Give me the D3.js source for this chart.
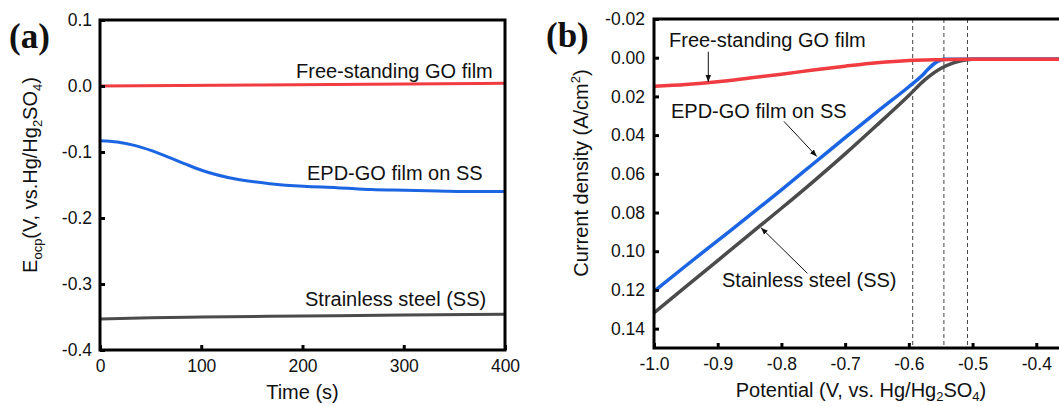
<!DOCTYPE html>
<html>
<head>
<meta charset="utf-8">
<script src="https://cdn.jsdelivr.net/npm/d3@7"></script>
<style>
  body { margin: 0; background: #fff; }
  text { font-family: "Liberation Sans", Arial, sans-serif; fill: #111; }
</style>
</head>
<body>
<div id="chart"></div>
<script>
// ---- panel (a): open circuit potential vs time ----
const aTime = [0, 17, 34, 51, 68, 84, 101, 134, 168, 201, 234, 268, 301, 334, 368, 400]
const aEpd = [-0.083, -0.085, -0.090, -0.098, -0.108, -0.118, -0.128, -0.141, -0.148, -0.152, -0.154, -0.157, -0.158, -0.159, -0.160, -0.160]
const aFreeTime = [0, 158, 400]
const aFree = [0.000, 0.0015, 0.004]
const aSteelTime = [0, 50, 100, 200, 300, 400]
const aSteel = [-0.353, -0.351, -0.350, -0.3485, -0.347, -0.346]
const aTimeTicks = [0, 100, 200, 300, 400]
const aPotTicks = [0.1, 0.0, -0.1, -0.2, -0.3, -0.4]

// ---- panel (b): polarization curves ----
const bFreeV = [-1.0, -0.95, -0.9, -0.85, -0.8, -0.75, -0.7, -0.65, -0.6, -0.55, -0.5, -0.3]
const bFree = [0.0147, 0.0138, 0.0124, 0.0105, 0.0085, 0.0064, 0.0044, 0.0026, 0.0014, 0.0010, 0.0008, 0.0008]
const bEpdV = [-1.0, -0.95, -0.9, -0.85, -0.8, -0.75, -0.7, -0.65, -0.6, -0.58, -0.57, -0.56, -0.55, -0.545, -0.3]
const bEpd = [0.1207, 0.1075, 0.0945, 0.0815, 0.0683, 0.0548, 0.0413, 0.0280, 0.0150, 0.0095, 0.0060, 0.0030, 0.0012, 0.0008, 0.0008]
const bSteelV = [-1.0, -0.95, -0.9, -0.85, -0.8, -0.75, -0.7, -0.65, -0.6, -0.575, -0.55, -0.53, -0.51, -0.5, -0.3]
const bSteel = [0.1318, 0.1183, 0.1048, 0.0913, 0.0778, 0.0640, 0.0497, 0.0348, 0.0195, 0.0115, 0.0056, 0.0027, 0.0011, 0.0008, 0.0008]
const bOnset = [-0.594, -0.545, -0.508]
const bPotTicks = [-1.0, -0.9, -0.8, -0.7, -0.6, -0.5, -0.4]
const bCurTicks = [-0.02, 0.00, 0.02, 0.04, 0.06, 0.08, 0.10, 0.12, 0.14]

const red = "#f03c41", blue = "#1b65e3", grey = "#4b4b4b"
const fmt = p => d => d3.format(p)(d).replace("\u2212", "-")

const svg = d3.select("#chart").append("svg")
  .attr("width", 1059)
  .attr("height", 406)

const defs = svg.append("defs")
defs.append("marker")
    .attr("id", "head")
    .attr("viewBox", "0 0 10 10")
    .attr("refX", 10).attr("refY", 5)
    .attr("markerWidth", 7).attr("markerHeight", 7)
    .attr("markerUnits", "userSpaceOnUse")
    .attr("orient", "auto")
  .append("path")
    .attr("d", "M0,1 L10,5 L0,9 Z")
    .attr("fill", "#111")

function styleAxis(g) {
  g.select(".domain").remove()
  g.selectAll(".tick line").attr("stroke", "#000").attr("stroke-width", 3)
  g.selectAll(".tick text").attr("font-size", 17.5).attr("fill", "#111")
    .style("font-family", "'Liberation Sans', Arial, sans-serif")
}

function addLine(g, xs, ys, xScale, yScale, color, w) {
  const pts = xs.map((x, i) => [x, ys[i]])
  g.append("path")
    .datum(pts)
    .attr("fill", "none")
    .attr("stroke", color)
    .attr("stroke-width", w)
    .attr("d", d3.line()
      .x(d => xScale(d[0]))
      .y(d => yScale(d[1]))
      .curve(d3.curveMonotoneX))
}

// ================= panel (a) =================
const ax = d3.scaleLinear().domain([0, 400]).range([100, 505])
const ay = d3.scaleLinear().domain([-0.4, 0.1]).range([350, 20])
const pa = svg.append("g")

addLine(pa, aSteelTime, aSteel, ax, ay, grey, 3)
addLine(pa, aTime, aEpd, ax, ay, blue, 3)
addLine(pa, aFreeTime, aFree, ax, ay, red, 3)

pa.append("g")
  .attr("transform", `translate(0,${ay(-0.4)})`)
  .call(d3.axisBottom(ax).tickValues(aTimeTicks).tickFormat(d3.format("d"))
    .tickSizeInner(-5).tickSizeOuter(0).tickPadding(10))
  .call(styleAxis)
pa.append("g")
  .attr("transform", `translate(${ax(0)},0)`)
  .call(d3.axisLeft(ay).tickValues(aPotTicks).tickFormat(fmt(".1f"))
    .tickSizeInner(-5).tickSizeOuter(0).tickPadding(8))
  .call(styleAxis)

pa.append("rect")
  .attr("x", ax(0)).attr("y", ay(0.1))
  .attr("width", ax(400) - ax(0)).attr("height", ay(-0.4) - ay(0.1))
  .attr("fill", "none").attr("stroke", "#000").attr("stroke-width", 3)

pa.append("text").attr("x", 296).attr("y", 78).attr("font-size", 20).text("Free-standing GO film")
pa.append("text").attr("x", 307).attr("y", 180).attr("font-size", 20).text("EPD-GO film on SS")
pa.append("text").attr("x", 305).attr("y", 306).attr("font-size", 20).text("Strainless steel (SS)")

pa.append("text").attr("x", 302.5).attr("y", 399).attr("font-size", 20)
  .attr("text-anchor", "middle").text("Time (s)")

const ta = pa.append("text")
  .attr("transform", "translate(37,175) rotate(-90)")
  .attr("text-anchor", "middle").attr("font-size", 20)
ta.append("tspan").text("E")
ta.append("tspan").attr("font-size", 13).attr("dy", 5).text("ocp")
ta.append("tspan").attr("dy", -5).text("(V, vs.Hg/Hg")
ta.append("tspan").attr("font-size", 13).attr("dy", 5).text("2")
ta.append("tspan").attr("dy", -5).text("SO")
ta.append("tspan").attr("font-size", 13).attr("dy", 5).text("4")
ta.append("tspan").attr("dy", -5).text(")")

pa.append("text").attr("x", 9).attr("y", 48)
  .attr("font-size", 35).attr("font-weight", "bold")
  .style("font-family", "'Liberation Serif', 'Times New Roman', serif")
  .text("(a)")

// ================= panel (b) =================
const bx = d3.scaleLinear().domain([-1.0, -0.3]).range([654, 1100])
const by = d3.scaleLinear().domain([-0.02, 0.15]).range([19, 348])
const pb = svg.append("g")

pb.selectAll(".onset")
  .data(bOnset)
  .enter().append("line")
    .attr("x1", d => bx(d)).attr("x2", d => bx(d))
    .attr("y1", by(-0.02)).attr("y2", by(0.15))
    .attr("stroke", "#444").attr("stroke-width", 1)
    .attr("stroke-dasharray", "4,3")

addLine(pb, bSteelV, bSteel, bx, by, grey, 3.5)
addLine(pb, bEpdV, bEpd, bx, by, blue, 3.5)
addLine(pb, bFreeV, bFree, bx, by, red, 3.5)

pb.append("g")
  .attr("transform", `translate(0,${by(0.15)})`)
  .call(d3.axisBottom(bx).tickValues(bPotTicks).tickFormat(fmt(".1f"))
    .tickSizeInner(-5).tickSizeOuter(0).tickPadding(10))
  .call(styleAxis)
pb.append("g")
  .attr("transform", `translate(${bx(-1.0)},0)`)
  .call(d3.axisLeft(by).tickValues(bCurTicks).tickFormat(fmt(".2f"))
    .tickSizeInner(-5).tickSizeOuter(0).tickPadding(9))
  .call(styleAxis)

pb.append("rect")
  .attr("x", bx(-1.0)).attr("y", by(-0.02))
  .attr("width", bx(-0.3) - bx(-1.0)).attr("height", by(0.15) - by(-0.02))
  .attr("fill", "none").attr("stroke", "#000").attr("stroke-width", 3)

// annotation arrows, in data units
const arrows = [
  [[-0.9148, -0.0031], [-0.9148, 0.0125]],
  [[-0.796, 0.0329], [-0.7446, 0.0510]],
  [[-0.7593, 0.1114], [-0.832, 0.0879]],
]
pb.selectAll(".arrow")
  .data(arrows)
  .enter().append("line")
    .attr("x1", d => bx(d[0][0])).attr("y1", d => by(d[0][1]))
    .attr("x2", d => bx(d[1][0])).attr("y2", d => by(d[1][1]))
    .attr("stroke", "#111").attr("stroke-width", 1)
    .attr("marker-end", "url(#head)")

pb.append("text").attr("x", 669).attr("y", 47).attr("font-size", 20).text("Free-standing GO film")
pb.append("text").attr("x", 671).attr("y", 118).attr("font-size", 20).text("EPD-GO film on SS")
pb.append("text").attr("x", 722).attr("y", 287).attr("font-size", 20).text("Stainless steel (SS)")

const xb = pb.append("text")
  .attr("x", 861).attr("y", 397)
  .attr("text-anchor", "middle").attr("font-size", 20)
xb.append("tspan").text("Potential (V, vs. Hg/Hg")
xb.append("tspan").attr("font-size", 13).attr("dy", 4).text("2")
xb.append("tspan").attr("dy", -4).text("SO")
xb.append("tspan").attr("font-size", 13).attr("dy", 4).text("4")
xb.append("tspan").attr("dy", -4).text(")")

const yb = pb.append("text")
  .attr("transform", "translate(588,173) rotate(-90)")
  .attr("text-anchor", "middle").attr("font-size", 20)
yb.append("tspan").text("Current density (A/cm")
yb.append("tspan").attr("font-size", 13).attr("dy", -8).text("2")
yb.append("tspan").attr("dy", 8).text(")")

pb.append("text").attr("x", 546).attr("y", 47)
  .attr("font-size", 35).attr("font-weight", "bold")
  .style("font-family", "'Liberation Serif', 'Times New Roman', serif")
  .text("(b)")
</script>
</body>
</html>
